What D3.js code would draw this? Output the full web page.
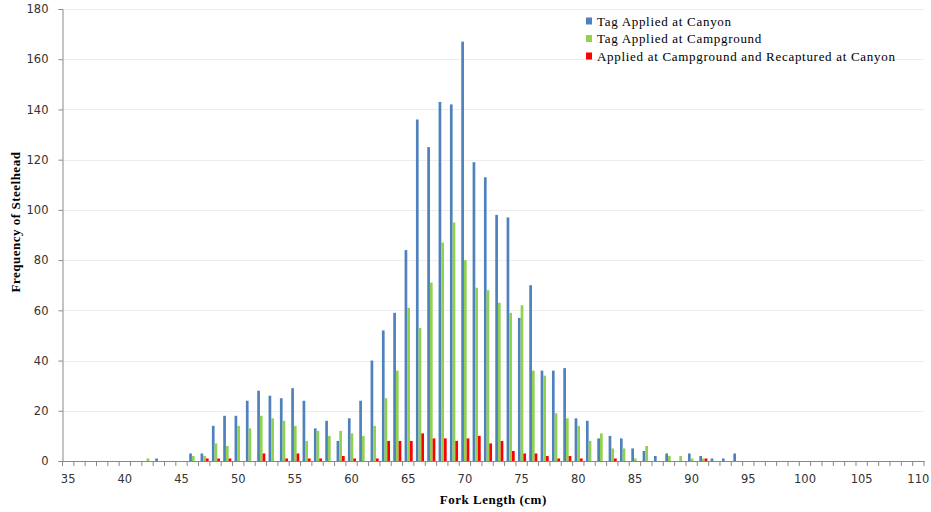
<!DOCTYPE html>
<html>
<head>
<meta charset="utf-8">
<script src="https://cdn.jsdelivr.net/npm/d3@7"></script>
<style>
body { margin: 0; background: #fff; }
.tickLabel { font-family: "DejaVu Sans", sans-serif; font-size: 11.5px; fill: #333; }
.axisTitle { font-family: "Liberation Serif", serif; font-size: 13px; font-weight: bold; fill: #000; letter-spacing: 0.5px; }
.legendText { font-family: "Liberation Serif", serif; font-size: 13px; fill: #000; letter-spacing: 0.7px; }
</style>
</head>
<body>
<script>
// fork length categories (cm), 35..110
var lengths = [35,36,37,38,39,40,41,42,43,44,45,46,47,48,49,50,51,52,53,54,55,56,57,58,59,60,
    61,62,63,64,65,66,67,68,69,70,71,72,73,74,75,76,77,78,79,80,81,82,83,84,85,86,87,88,89,90,
    91,92,93,94,95,96,97,98,99,100,101,102,103,104,105,106,107,108,109,110]

// counts per length, same order as lengths
var canyon = [0,0,0,0,0,0,0,0,1,0,0,3,3,14,18,18,24,28,26,25,29,24,13,16,8,17,
    24,40,52,59,84,136,125,143,142,167,119,113,98,97,57,70,36,36,37,17,16,9,10,9,5,4,2,3,0,3,
    2,1,1,3,0,0,0,0,0,0,0,0,0,0,0,0,0,0,0,0]
var campground = [0,0,0,0,0,0,0,1,0,0,0,2,2,7,6,14,13,18,17,16,14,8,12,10,12,11,
    10,14,25,36,61,53,71,87,95,80,69,68,63,59,62,36,34,19,17,14,8,11,5,5,1,6,0,2,2,1,
    1,0,0,0,0,0,0,0,0,0,0,0,0,0,0,0,0,0,0,0]
var recaptured = [0,0,0,0,0,0,0,0,0,0,0,0,1,1,1,0,0,3,0,1,3,1,1,0,2,1,
    0,1,8,8,8,11,9,9,8,9,10,7,8,4,3,3,2,1,2,1,0,0,1,0,0,0,0,0,0,0,
    1,0,0,0,0,0,0,0,0,0,0,0,0,0,0,0,0,0,0,0]

var seriesNames = ["Tag Applied at Canyon", "Tag Applied at Campground", "Applied at Campground and Recaptured at Canyon"]
var seriesColors = ["#4F81BD", "#92D050", "#FF0000"]
var yTicks = [0,20,40,60,80,100,120,140,160,180]
var xLabels = [35,40,45,50,55,60,65,70,75,80,85,90,95,100,105,110]

var width = 931
var height = 512
var plotLeft = 62.5
var plotRight = 924
var plotTop = 9
var plotBottom = 461

var svg = d3.select("body")
    .append("svg")
    .attr("width", width)
    .attr("height", height)

var x = d3.scaleBand()
    .domain(lengths)
    .range([plotLeft, plotRight])

var groupWidth = x.bandwidth() / 1.4
var xInner = d3.scaleBand()
    .domain([0,1,2])
    .range([(x.bandwidth() - groupWidth) / 2 + 0.4, (x.bandwidth() + groupWidth) / 2 + 0.4])

var y = d3.scaleLinear()
    .domain([0, 180])
    .range([plotBottom, plotTop])

// gridlines
svg.append("g")
    .selectAll("line")
    .data(yTicks.slice(1))
    .enter()
    .append("line")
    .attr("x1", plotLeft)
    .attr("x2", plotRight)
    .attr("y1", function(d){return Math.round(y(d)) + 0.5})
    .attr("y2", function(d){return Math.round(y(d)) + 0.5})
    .attr("stroke", "#EDEDED")
    .attr("stroke-width", 1)

// bars
var table = lengths.map(function(len, i)
{
    return {len: len, values: [canyon[i], campground[i], recaptured[i]]}
})

var groups = svg.append("g")
    .selectAll("g")
    .data(table)
    .enter()
    .append("g")
    .attr("transform", function(d){return "translate(" + x(d.len) + ",0)"})

groups.selectAll("rect")
    .data(function(d){return d.values.map(function(v, k){return {k: k, v: v}}).filter(function(b){return b.v > 0})})
    .enter()
    .append("rect")
    .attr("x", function(d){return xInner(d.k)})
    .attr("width", xInner.bandwidth())
    .attr("y", function(d){return y(d.v)})
    .attr("height", function(d){return plotBottom - y(d.v)})
    .attr("fill", function(d){return seriesColors[d.k]})

// y axis
var yAxis = svg.append("g")
    .attr("transform", "translate(" + plotLeft + ",0)")
    .call(d3.axisLeft(y).tickValues(yTicks).tickSize(4).tickPadding(10))
yAxis.select(".domain").attr("stroke", "#888")
yAxis.selectAll(".tick line").attr("stroke", "#888")
yAxis.selectAll(".tick text").attr("class", "tickLabel")

// x axis, labels every 5 cm, tick marks on every category boundary
var xAxis = svg.append("g")
    .attr("transform", "translate(0," + plotBottom + ")")
    .call(d3.axisBottom(x).tickValues(xLabels).tickSize(0).tickPadding(14))
xAxis.select(".domain").attr("stroke", "#888")
xAxis.selectAll(".tick text").attr("class", "tickLabel")

svg.append("g")
    .selectAll("line")
    .data(lengths.concat(["end"]))
    .enter()
    .append("line")
    .attr("x1", function(d){return d == "end" ? plotRight : x(d)})
    .attr("x2", function(d){return d == "end" ? plotRight : x(d)})
    .attr("y1", plotBottom)
    .attr("y2", plotBottom + 5)
    .attr("stroke", "#888")

// axis titles
svg.append("text")
    .attr("class", "axisTitle")
    .attr("text-anchor", "middle")
    .attr("x", (plotLeft + plotRight) / 2)
    .attr("y", 504)
    .text("Fork Length  (cm)")

svg.append("text")
    .attr("class", "axisTitle")
    .attr("text-anchor", "middle")
    .attr("transform", "translate(20,222) rotate(-90)")
    .text("Frequency of Steelhead")

// legend
var legend = svg.append("g")
    .selectAll("g")
    .data(seriesNames)
    .enter()
    .append("g")
    .attr("transform", function(d, i){return "translate(586," + (21 + i * 17.5) + ")"})

legend.append("rect")
    .attr("x", 0)
    .attr("y", -3.5)
    .attr("width", 6)
    .attr("height", 7)
    .attr("fill", function(d, i){return seriesColors[i]})

legend.append("text")
    .attr("class", "legendText")
    .attr("x", 11)
    .attr("y", 4.5)
    .text(function(d){return d})
</script>
</body>
</html>
